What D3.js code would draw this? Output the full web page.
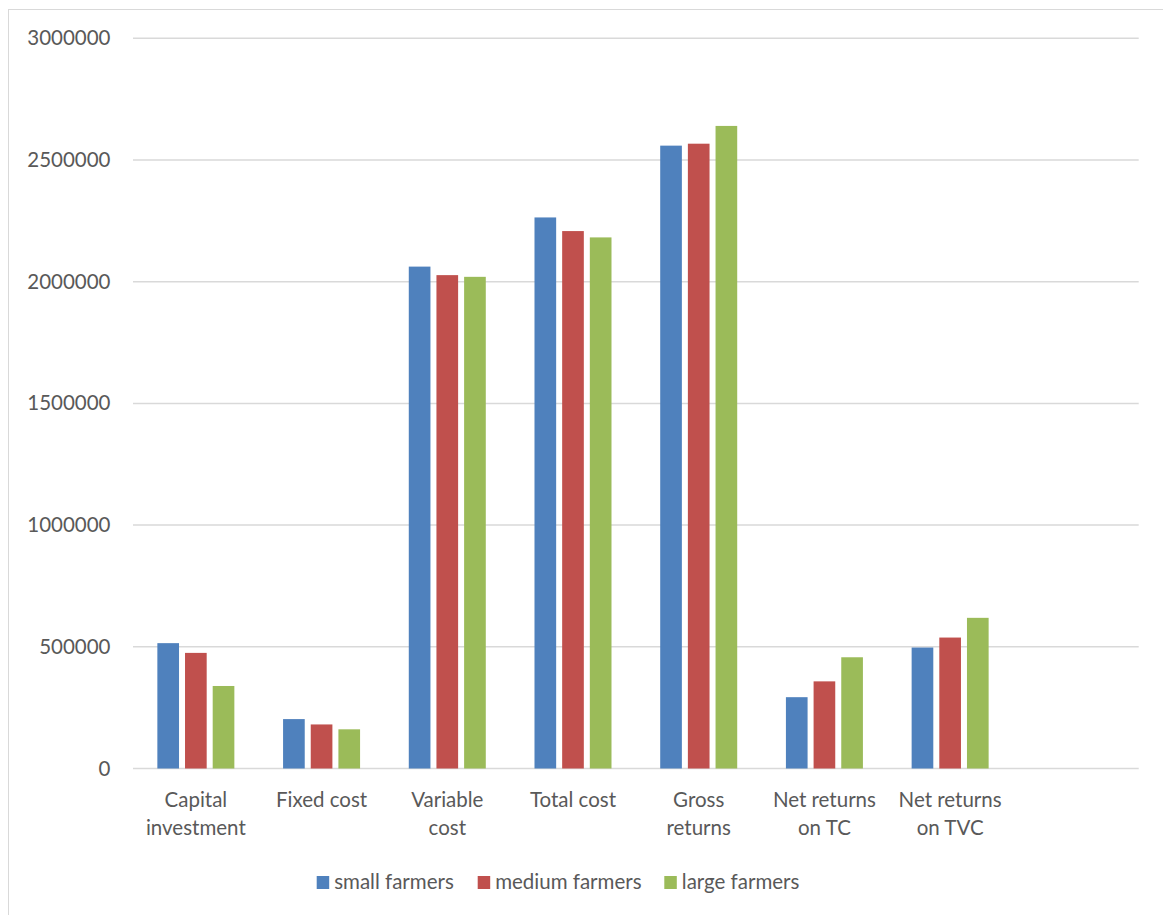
<!DOCTYPE html>
<html>
<head>
<meta charset="utf-8">
<script src="https://cdn.jsdelivr.net/npm/d3@7"></script>
<style>
  html, body { margin: 0; padding: 0; background: #fff; }
  svg { display: block; font-family: Lato, "Open Sans", sans-serif; }
</style>
</head>
<body>
<svg id="chart" width="1163" height="915"></svg>
<script>
const categories = ["Capital investment", "Fixed cost", "Variable cost", "Total cost", "Gross returns", "Net returns on TC", "Net returns on TVC", ""];
const tickLabels = [["Capital", "investment"], ["Fixed cost"], ["Variable", "cost"], ["Total cost"], ["Gross", "returns"], ["Net returns", "on TC"], ["Net returns", "on TVC"], []];
const seriesNames = ["small farmers", "medium farmers", "large farmers"];
const smallFarmers  = [515000, 203000, 2062000, 2264000, 2559000, 293000, 497000, null];
const mediumFarmers = [475000, 181000, 2027000, 2208000, 2567000, 358000, 538000, null];
const largeFarmers  = [339000, 161000, 2020000, 2182000, 2640000, 457000, 619000, null];
const yTicks = [0, 500000, 1000000, 1500000, 2000000, 2500000, 3000000];
const colors = ["#4f81bd", "#c0504d", "#9bbb59"];

const seriesValues = [smallFarmers, mediumFarmers, largeFarmers];
const svg = d3.select("#chart");
const textColor = "#595959";
const fontSize = 20.5;

// outer chart border (left and top visible)
svg.append("rect").attr("x", 8.5).attr("y", 9.5).attr("width", 1170).attr("height", 920)
  .attr("fill", "none").attr("stroke", "#d9d9d9").attr("stroke-width", 1);

const x0 = d3.scaleBand().domain(categories.map((c, i) => i)).range([133, 1138.7]).padding(0);
const groupHalf = 38.5;
const y = d3.scaleLinear().domain([0, 3000000]).range([768.5, 38.3]);

// gridlines
svg.append("g").selectAll("line").data(yTicks).join("line")
  .attr("x1", 133).attr("x2", 1138.7)
  .attr("y1", d => y(d)).attr("y2", d => y(d))
  .attr("stroke", "#d9d9d9").attr("stroke-width", 1.5);

// y axis labels
const yAxis = d3.axisLeft(y).tickValues(yTicks).tickFormat(d3.format("d")).tickSize(0).tickPadding(0);
const yg = svg.append("g").attr("transform", "translate(110.5,0)").call(yAxis);
yg.select(".domain").remove();
yg.selectAll("text").attr("fill", textColor).style("font-size", fontSize + "px")
  .style("font-family", "Lato, 'Open Sans', sans-serif");

// bars
categories.forEach((cat, i) => {
  const cx = x0(i) + x0.bandwidth() / 2;
  const x1 = d3.scaleBand().domain(seriesNames).range([cx - groupHalf, cx + groupHalf]).paddingInner(0.217).paddingOuter(0);
  const data = seriesNames.map((s, j) => ({ s, j, v: seriesValues[j][i] })).filter(d => d.v != null);
  svg.append("g").selectAll("rect").data(data).join("rect")
    .attr("x", d => x1(d.s)).attr("width", x1.bandwidth())
    .attr("y", d => y(d.v)).attr("height", d => y(0) - y(d.v))
    .attr("fill", d => colors[d.j]);
});

// x labels
const xl = svg.append("g");
tickLabels.forEach((lines, i) => {
  const cx = x0(i) + x0.bandwidth() / 2;
  const t = xl.append("text").attr("text-anchor", "middle").attr("fill", textColor)
    .style("font-size", fontSize + "px");
  lines.forEach((ln, k) => {
    t.append("tspan").attr("x", cx).attr("y", 807 + k * 28.3).text(ln);
  });
});

// legend
const legendX = [316.7, 477.7, 664.3];
const lg = svg.append("g");
seriesNames.forEach((s, j) => {
  lg.append("rect").attr("x", legendX[j]).attr("y", 876).attr("width", 12.5).attr("height", 13).attr("fill", colors[j]);
  lg.append("text").attr("x", legendX[j] + 17.5).attr("y", 889).attr("fill", textColor)
    .style("font-size", fontSize + "px").text(s);
});
</script>
</body>
</html>
